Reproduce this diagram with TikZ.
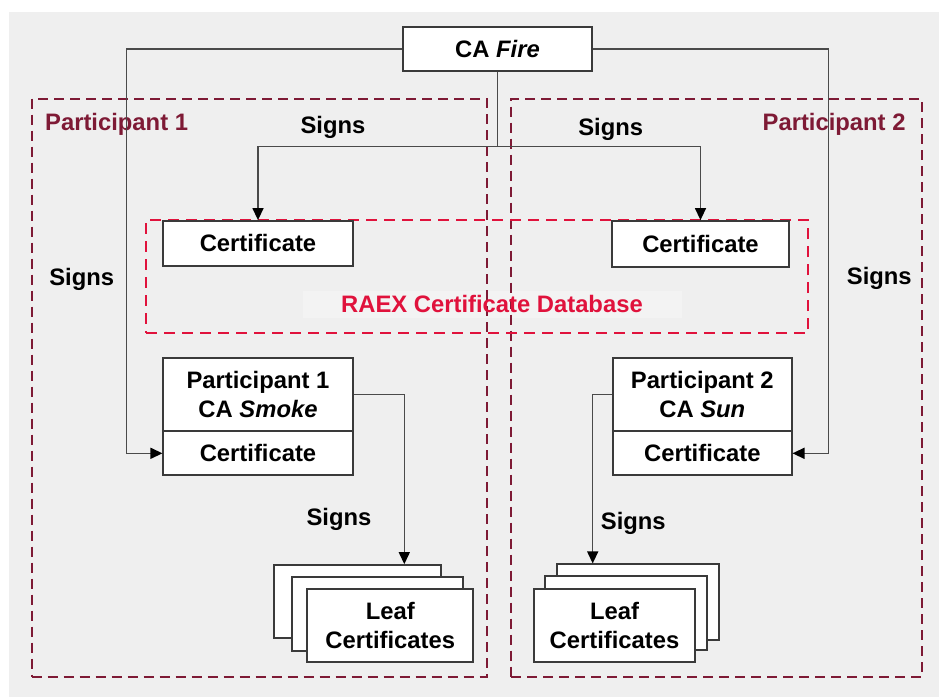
\documentclass[tikz,border=0pt]{standalone}
\usepackage{fontspec}
\setmainfont{Liberation Sans}
\usetikzlibrary{arrows.meta}
\definecolor{panel}{HTML}{EFEFEF}
\definecolor{band}{HTML}{F3F3F3}
\definecolor{maroon}{HTML}{7E1A35}
\definecolor{raexred}{HTML}{E0123C}
\definecolor{edge}{HTML}{3A3A3A}
\definecolor{wire}{HTML}{4A4A4A}

\begin{document}
\begin{tikzpicture}[x=1pt,y=-1pt,
  every node/.style={font=\fontsize{23.8}{29}\selectfont\bfseries},
  box/.style={draw=edge, line width=1.7pt, fill=white, inner sep=0pt, align=center},
  link/.style={draw=wire, line width=1.4pt},
  arr/.style={link, -{Triangle[length=12pt,width=11pt,fill=black,color=black]}},
  partframe/.style={draw=maroon, line width=2.3pt, dash pattern=on 10pt off 6pt, inner sep=0pt},
  dbframe/.style={draw=raexred, line width=2.3pt, dash pattern=on 11pt off 7pt, inner sep=0pt},
  lbl/.style={inner sep=0pt, anchor=base},
]
\useasboundingbox (0,0) rectangle (939,697);
\fill[white] (0,0) rectangle (939,697);
\fill[panel] (9,12) rectangle (939,697);

% database caption band
\fill[band] (302.7,291) rectangle (681.7,318);

% participant domains and the shared database
\node[partframe, minimum width=455pt, minimum height=578pt] (p1) at (259.2,387.7) {};
\node[partframe, minimum width=411pt, minimum height=578pt] (p2) at (716.5,387.7) {};
\node[dbframe, minimum width=661.7pt, minimum height=113.3pt] (db) at (476.85,276.65) {};

\node[lbl, anchor=base west, text=maroon] (p1lbl) at (45,130) {Participant 1};
\node[lbl, anchor=base east, text=maroon] (p2lbl) at (905.7,130) {Participant 2};
\node[lbl, text=raexred] (dblbl) at (492,312.5) {RAEX Certificate Database};

% root CA
\node[box, minimum width=189pt, minimum height=44pt] (fire) at (497.5,49) {CA \textit{Fire}};

% certificates in the database
\node[box, minimum width=189.4pt, minimum height=44.7pt] (certL) at (258,243.3) {Certificate};
\node[box, minimum width=177.6pt, minimum height=45.7pt] (certR) at (700.5,243.8) {Certificate};

% participant CAs
\node[box, minimum width=189.4pt, minimum height=73.3pt] (smoke) at (258,394.7) {Participant 1\\CA \textit{Smoke}};
\node[box, minimum width=189.4pt, minimum height=44pt] (smokecert) at (258,453.3) {Certificate};
\node[box, minimum width=178.7pt, minimum height=73.3pt] (sun) at (702.3,394.7) {Participant 2\\CA \textit{Sun}};
\node[box, minimum width=178.7pt, minimum height=44pt] (suncert) at (702.3,453.3) {Certificate};

% leaf certificate stacks
\node[box, minimum width=166.4pt, minimum height=72.7pt] (leafLa) at (357.5,601.35) {};
\node[box, minimum width=171.6pt, minimum height=74pt] (leafLb) at (377.5,614) {};
\node[box, minimum width=166pt, minimum height=73.3pt] (leafLc) at (390.3,625.65) {Leaf\\Certificates};
\node[box, minimum width=162.6pt, minimum height=76pt] (leafRa) at (638,602.3) {};
\node[box, minimum width=162.6pt, minimum height=74.3pt] (leafRb) at (626,612.85) {};
\node[box, minimum width=161.6pt, minimum height=73.3pt] (leafRc) at (614.5,625.65) {Leaf\\Certificates};

% signing connectors
\coordinate (lb) at (126.7,49);
\coordinate (rb) at (828.3,49);
\coordinate (mid) at (497.5,146.7);
\coordinate (sl) at (404.3,394.7);
\coordinate (sr) at (592.7,394.7);

\draw[arr] (fire.west) -- (lb) |- (smokecert.west);
\draw[arr] (fire.east) -- (rb) |- (suncert.east);
\draw[link] (fire.south) -- (mid);
\draw[arr] (mid) -| (certL.north);
\draw[arr] (mid) -| (certR.north);
\draw[arr] (smoke.east) -- (sl) -- (sl |- leafLa.north);
\draw[arr] (sun.west) -- (sr) -- (sr |- leafRa.north);

% connector labels
\node[lbl] (s1) at (333,133.3) {Signs};
\node[lbl] (s2) at (610.7,135) {Signs};
\node[lbl] (s3) at (81.7,285) {Signs};
\node[lbl] (s4) at (879.3,284) {Signs};
\node[lbl] (s5) at (339,525.7) {Signs};
\node[lbl] (s6) at (633.3,529) {Signs};
\end{tikzpicture}
\end{document}
